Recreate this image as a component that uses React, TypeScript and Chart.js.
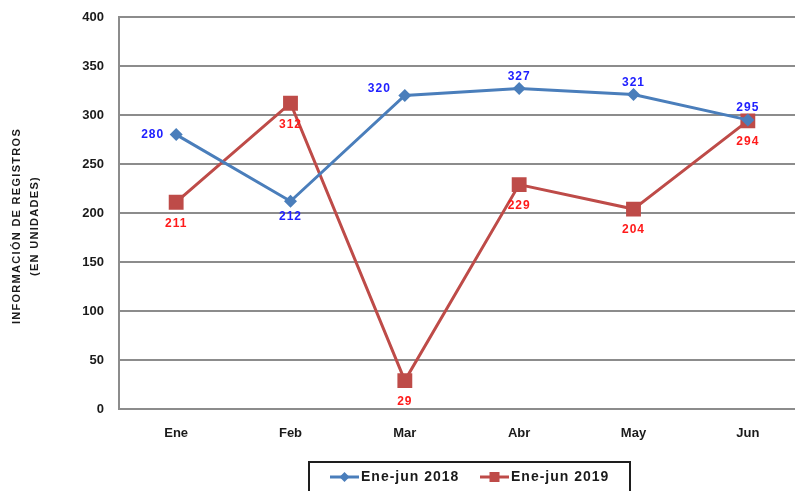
import React, { useEffect, useRef } from "react";
import { Chart, registerables } from "chart.js";

Chart.register(...registerables);

const categories = ["Ene", "Feb", "Mar", "Abr", "May", "Jun"];
const series2018 = [280, 212, 320, 327, 321, 295];
const series2019 = [211, 312, 29, 229, 204, 294];
const labelPos2018 = ["left", "below", "upleft", "above", "above", "above"];
const labelPos2019 = ["below", "below", "below", "below", "below", "below"];
const seriesNames = ["Ene-jun 2018", "Ene-jun 2019"];
const yTitle = ["INFORMACIÓN DE REGISTROS", "(EN UNIDADES)"];

const BLUE = "#4A7EBB";
const RED = "#BE4B48";
const FONT = "'Liberation Sans', Arial, sans-serif";

const labelsPlugin = {
  id: "customDraw",
  afterDatasetsDraw(chart: any) {
    const ctx = chart.ctx;
    const cfg = [
      { pos: labelPos2018, color: "#2020ff", below: 15, above: 12 },
      { pos: labelPos2019, color: "#ff1a1a", below: 21, above: 16 },
    ];
    chart.data.datasets.forEach((ds: any, di: number) => {
      const meta = chart.getDatasetMeta(di);
      const c = cfg[di];
      ctx.save();
      ctx.font = `bold 12px ${FONT}`;
      (ctx as any).letterSpacing = "1px";
      ctx.fillStyle = c.color;
      ctx.textBaseline = "middle";
      meta.data.forEach((pt: any, i: number) => {
        const v = String(ds.data[i]);
        const p = c.pos[i];
        let x = pt.x;
        let y = pt.y;
        ctx.textAlign = "center";
        if (p === "left") {
          ctx.textAlign = "right";
          x -= 12;
        } else if (p === "upleft") {
          ctx.textAlign = "right";
          x -= 14;
          y -= 7;
        } else if (p === "above") {
          y -= c.above;
        } else {
          y += c.below;
        }
        ctx.fillText(v, x, y);
      });
      ctx.restore();
    });
  },
  afterDraw(chart: any) {
    const ctx = chart.ctx;
    // Y axis title
    ctx.save();
    ctx.font = `bold 11px ${FONT}`;
    (ctx as any).letterSpacing = "1.3px";
    ctx.fillStyle = "#1a1a1a";
    ctx.textAlign = "center";
    ctx.textBaseline = "middle";
    const cy = 226;
    [17, 35].forEach((x, i) => {
      ctx.save();
      ctx.translate(x, cy);
      ctx.rotate(-Math.PI / 2);
      ctx.fillText(yTitle[i], 0, 0);
      ctx.restore();
    });
    ctx.restore();

    // Legend
    ctx.save();
    ctx.strokeStyle = "#1e1e1e";
    ctx.lineWidth = 2;
    ctx.strokeRect(309, 462, 321, 40);
    const ly = 477;
    const items = [
      { x: 330, color: BLUE, style: "diamond" },
      { x: 480, color: RED, style: "square" },
    ];
    items.forEach((it, i) => {
      ctx.strokeStyle = it.color;
      ctx.lineWidth = 3;
      ctx.beginPath();
      ctx.moveTo(it.x, ly);
      ctx.lineTo(it.x + 29, ly);
      ctx.stroke();
      ctx.fillStyle = it.color;
      const cx = it.x + 14.5;
      if (it.style === "diamond") {
        ctx.beginPath();
        ctx.moveTo(cx, ly - 5);
        ctx.lineTo(cx + 5, ly);
        ctx.lineTo(cx, ly + 5);
        ctx.lineTo(cx - 5, ly);
        ctx.closePath();
        ctx.fill();
      } else {
        ctx.fillRect(cx - 5, ly - 5, 10, 10);
      }
      ctx.font = `bold 14px ${FONT}`;
      (ctx as any).letterSpacing = "1px";
      ctx.fillStyle = "#1a1a1a";
      ctx.textAlign = "left";
      ctx.textBaseline = "middle";
      ctx.fillText(seriesNames[i], it.x + 31, ly);
    });
    ctx.restore();
  },
};

export default function App() {
  const ref = useRef<HTMLCanvasElement | null>(null);
  useEffect(() => {
    if (!ref.current) return;
    const chart = new Chart(ref.current, {
      type: "line",
      data: {
        labels: categories,
        datasets: [
          {
            label: seriesNames[0],
            data: series2018,
            borderColor: BLUE,
            backgroundColor: BLUE,
            borderWidth: 3,
            pointStyle: "rectRot",
            pointRadius: 6.5,
            pointBorderWidth: 0,
            tension: 0,
          },
          {
            label: seriesNames[1],
            data: series2019,
            borderColor: RED,
            backgroundColor: RED,
            borderWidth: 3,
            pointStyle: "rect",
            pointRadius: 10.5,
            pointBorderWidth: 0,
            tension: 0,
          },
        ],
      },
      options: {
        responsive: false,
        animation: false,
        layout: { padding: { left: 0, top: 17, right: 15, bottom: 0 } },
        plugins: { legend: { display: false }, tooltip: { enabled: false } },
        scales: {
          x: {
            offset: true,
            grid: { display: false, drawTicks: false },
            border: { display: false },
            ticks: {
              padding: 17,
              color: "#1a1a1a",
              font: { family: FONT, size: 13, weight: "bold" },
            },
            afterFit(scale: any) {
              scale.height = 82;
              scale.paddingLeft = 0;
              scale.paddingRight = 0;
            },
          },
          y: {
            min: 0,
            max: 400,
            ticks: {
              stepSize: 50,
              padding: 15,
              color: "#1a1a1a",
              font: { family: FONT, size: 13, weight: "bold" },
            },
            grid: { color: "#8c8c8c", lineWidth: 2, drawTicks: false },
            border: { display: true, color: "#8c8c8c", width: 2 },
            afterFit(scale: any) {
              scale.width = 119;
              scale.paddingTop = 0;
              scale.paddingBottom = 0;
            },
          },
        },
      },
      plugins: [labelsPlugin],
    } as any);
    return () => chart.destroy();
  }, []);
  return (
    <div
      style={{
        position: "fixed",
        left: 0,
        top: 0,
        width: 795,
        height: 491,
        overflow: "hidden",
        background: "#fff",
      }}
    >
      <canvas ref={ref} width={820} height={491} style={{ display: "block" }} />
    </div>
  );
}
